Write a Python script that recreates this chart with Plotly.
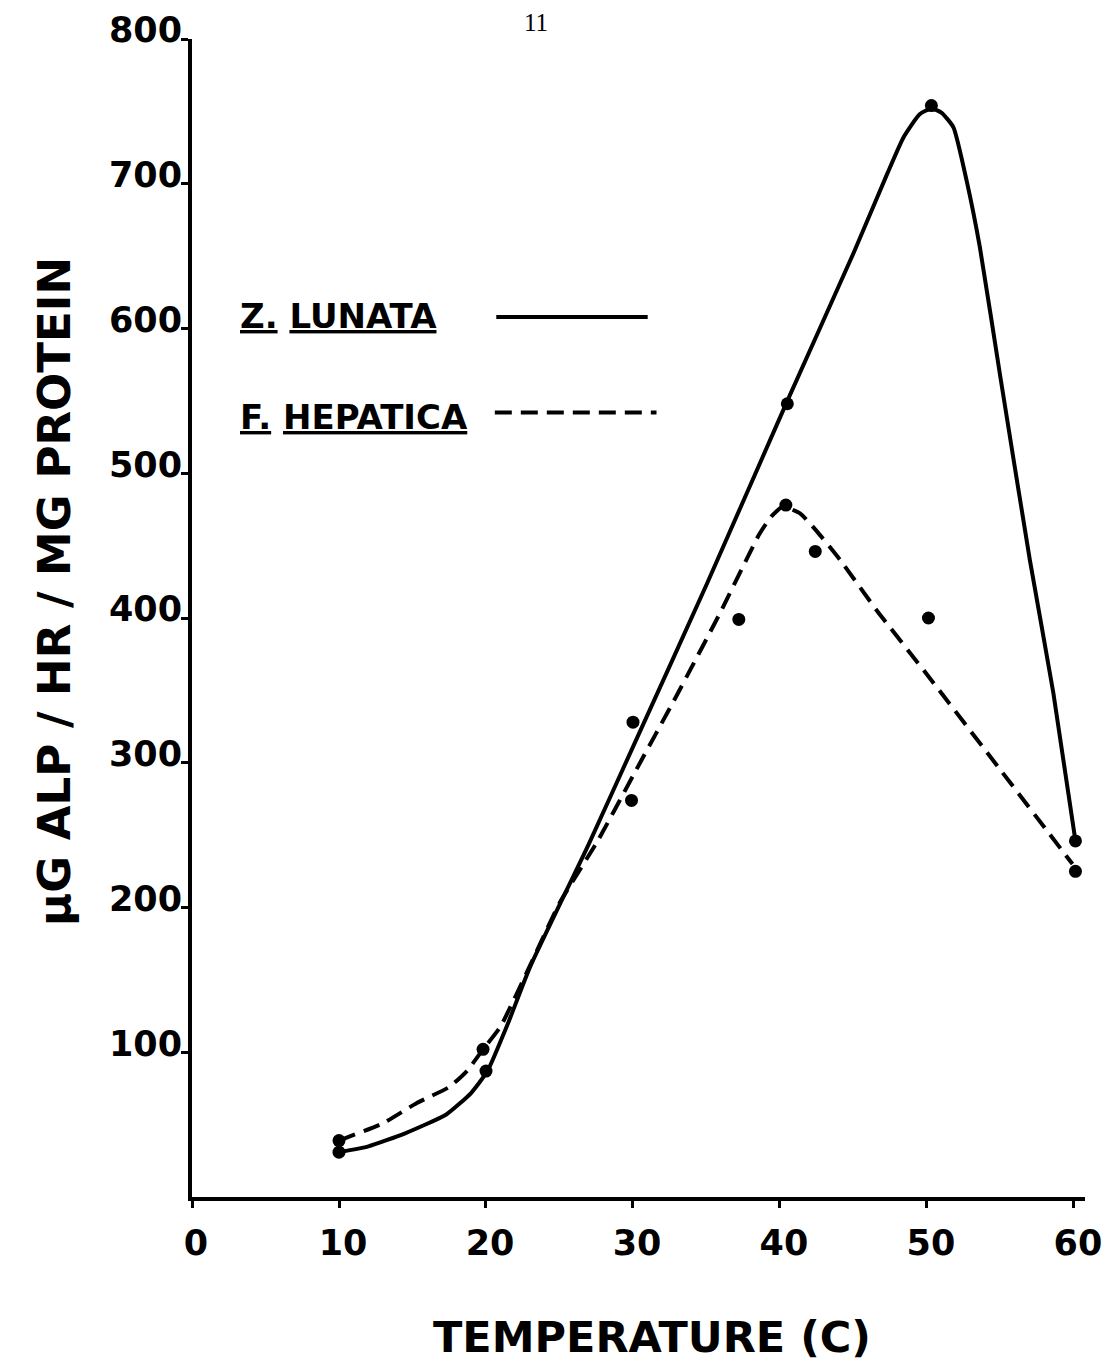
import plotly.graph_objects as go

# ---- data ----
# measured points
lunata_temp = [10, 20, 30, 40.5, 50.3, 60.1]
lunata_act = [31, 87, 328, 548, 754, 246]

hepatica_temp = [10, 19.8, 29.9, 37.2, 40.4, 42.4, 50.1, 60.1]
hepatica_act = [39, 102, 274, 399, 478, 446, 400, 225]

# hand-drawn fitted curves
lunata_curve_temp = [10, 12, 14.5, 17.3, 19, 20.1, 21.5, 23, 27, 30, 35, 40.5, 45, 47.3,
                     48.4, 49.5, 50.3, 51, 51.8, 52.7, 53.6, 55, 57, 58.6, 60.1]
lunata_curve_act = [31, 35, 44, 57, 72, 87, 120, 159, 244, 311, 423, 550, 652, 707,
                    732, 748, 752, 749, 739, 702, 656, 566, 440, 348, 246]

hepatica_curve_temp = [10, 13, 15.3, 17.5, 18.7, 19.8, 21, 23, 25, 27.6, 30, 33, 35.9,
                       38.6, 39.4, 40.2, 41.4, 42.5, 44.1, 46.6, 50, 55, 59.9]
hepatica_curve_act = [39, 51, 65, 76, 87, 102, 118, 160, 203, 246, 291, 347, 403,
                      458, 470, 477, 472, 460, 440, 405, 361, 295, 230]

x_ticks = [0, 10, 20, 30, 40, 50, 60]
y_ticks = [100, 200, 300, 400, 500, 600, 700, 800]

FONT = "DejaVu Sans"
INK = "black"

fig = go.Figure()

fig.add_trace(go.Scatter(
    x=lunata_curve_temp, y=lunata_curve_act, mode="lines",
    line=dict(color=INK, width=4, shape="spline", smoothing=0.5),
    showlegend=False, hoverinfo="skip"))
fig.add_trace(go.Scatter(
    x=hepatica_curve_temp, y=hepatica_curve_act, mode="lines",
    line=dict(color=INK, width=4, dash="17px,9px", shape="spline", smoothing=0.5),
    showlegend=False, hoverinfo="skip"))
fig.add_trace(go.Scatter(
    x=lunata_temp, y=lunata_act, mode="markers", name="Z. LUNATA",
    marker=dict(color=INK, size=13), showlegend=False))
fig.add_trace(go.Scatter(
    x=hepatica_temp, y=hepatica_act, mode="markers", name="F. HEPATICA",
    marker=dict(color=INK, size=13), showlegend=False))

# hand-drawn legend key lines
fig.add_shape(type="line", xref="x", yref="y", x0=20.7, x1=31.0, y0=608, y1=608,
              line=dict(color=INK, width=4))
fig.add_shape(type="line", xref="x", yref="y", x0=20.6, x1=31.6, y0=542, y1=542,
              line=dict(color=INK, width=4, dash="17px,9px"))

fig.add_annotation(xref="paper", yref="paper", x=0.0515, y=0.7608, xanchor="left",
                   yanchor="middle", showarrow=False,
                   text="<u>Z.</u> <u>LUNATA</u>",
                   font=dict(family=FONT, size=34, color=INK, weight="bold"))
fig.add_annotation(xref="paper", yref="paper", x=0.0515, y=0.6736, xanchor="left",
                   yanchor="middle", showarrow=False,
                   text="<u>F.</u> <u>HEPATICA</u>",
                   font=dict(family=FONT, size=34, color=INK, weight="bold"))

# axis titles
fig.add_annotation(xref="paper", yref="paper", x=-0.1534, y=0.5225, xanchor="center",
                   yanchor="middle", showarrow=False, textangle=-90,
                   text="μG ALP / HR / MG PROTEIN",
                   font=dict(family=FONT, size=45, color=INK, weight="bold"))
fig.add_annotation(xref="paper", yref="paper", x=0.515, y=-0.1205, xanchor="center",
                   yanchor="middle", showarrow=False,
                   text="TEMPERATURE (C)",
                   font=dict(family=FONT, size=43, color=INK, weight="bold"))

# page number
fig.add_annotation(xref="paper", yref="paper", x=0.385, y=1.0145, xanchor="center",
                   yanchor="middle", showarrow=False, text="11",
                   font=dict(family="Liberation Serif", size=25, color=INK))

fig.update_xaxes(range=[0, 60.75], tickvals=x_ticks, ticktext=[str(v) for v in x_ticks],
                 showgrid=False, zeroline=False, showline=True, linecolor=INK, linewidth=4,
                 ticks="outside", ticklen=7, tickwidth=3, tickcolor=INK,
                 ticklabelstandoff=5, ticklabelshift=4, automargin=False,
                 tickfont=dict(family=FONT, size=35, color=INK, weight="bold"))
fig.update_yaxes(range=[0, 800], tickvals=y_ticks, ticktext=[str(v) for v in y_ticks],
                 showgrid=False, zeroline=False, showline=True, linecolor=INK, linewidth=4,
                 ticks="outside", ticklen=7, tickwidth=3, tickcolor=INK,
                 ticklabelstandoff=-8, ticklabelshift=-9, automargin=False,
                 tickfont=dict(family=FONT, size=35, color=INK, weight="bold"))

# the page body has an 8px margin, so the figure is 8px smaller than the window
fig.update_layout(width=1110, height=1354, paper_bgcolor="white", plot_bgcolor="white",
                  margin=dict(l=184, r=33, t=31, b=165), showlegend=False)

fig.write_html("out.html")
